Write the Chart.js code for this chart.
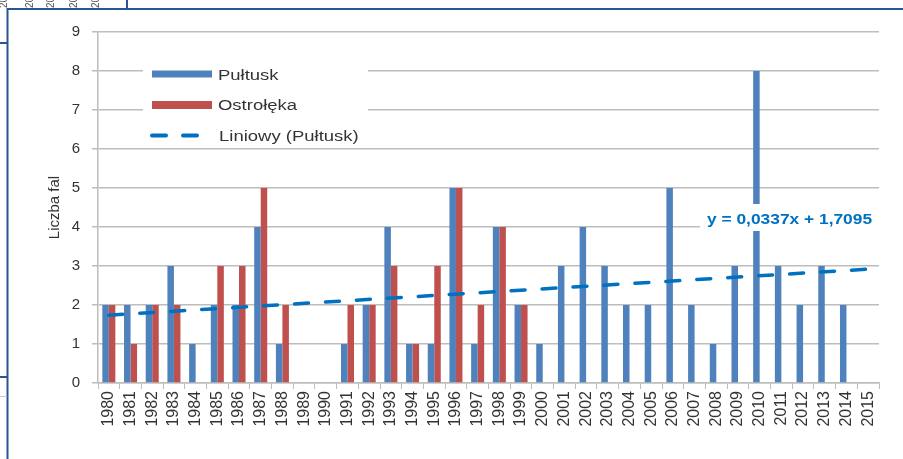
<!DOCTYPE html>
<html>
<head>
<meta charset="utf-8">
<script src="https://cdn.jsdelivr.net/npm/chart.js@4.4.1/dist/chart.umd.min.js"></script>
<style>
  html, body { margin: 0; padding: 0; background: #fff; }
  #chart { display: block; }
</style>
</head>
<body>
<canvas id="chart" width="903" height="459"></canvas>
<script>
const years = ['1980','1981','1982','1983','1984','1985','1986','1987','1988','1989',
               '1990','1991','1992','1993','1994','1995','1996','1997','1998','1999',
               '2000','2001','2002','2003','2004','2005','2006','2007','2008','2009',
               '2010','2011','2012','2013','2014','2015']
const pultusk = [2,2,2,3,1,2,2,4,1,0, 0,1,2,4,1,1,5,1,4,2, 1,3,4,3,2,2,5,2,1,3, 8,3,2,3,2,0]
const ostroleka = [2,1,2,2,0,3,3,5,2,0, 0,2,2,3,1,3,5,2,4,2,
                   null,null,null,null,null,null,null,null,null,null,
                   null,null,null,null,null,null]
// linia trendu - tylko końce
const trendPultusk = [1.74,null,null,null,null,null,null,null,null,null,
                      null,null,null,null,null,null,null,null,null,null,
                      null,null,null,null,null,null,null,null,null,null,
                      null,null,null,null,null,2.92]
const trendEquation = 'y = 0,0337x + 1,7095'
const yMax = 9
const yAxisTitle = 'Liczba fal'

const BLUE = '#4F81BD', RED = '#C0504D', TREND = '#0070C0', GRID = '#bdbdbd', TEXT = '#333'

// legenda wewnątrz wykresu + równanie trendu + ramka
const overlay = {
    id: 'overlay',
    beforeDraw(chart) {
        const ctx = chart.ctx
        ctx.save()
        ctx.fillStyle = '#fff'
        ctx.fillRect(0, 0, chart.width, chart.height)
        ctx.restore()
    },
    afterDatasetsDraw(chart) {
        const ctx = chart.ctx
        const ds = chart.data.datasets
        ctx.save()
        // tło legendy
        ctx.fillStyle = '#fff'
        ctx.fillRect(143, 57, 225, 90)
        ctx.fillStyle = ds[0].backgroundColor
        ctx.fillRect(152, 70.5, 60, 7)
        ctx.fillStyle = ds[1].backgroundColor
        ctx.fillRect(152, 101, 60, 8)
        ctx.strokeStyle = TREND
        ctx.lineWidth = 4
        ctx.lineCap = 'round'
        ctx.beginPath()
        ctx.moveTo(152, 135.5); ctx.lineTo(166, 135.5)
        ctx.moveTo(183, 135.5); ctx.lineTo(197, 135.5)
        ctx.stroke()
        ctx.fillStyle = TEXT
        ctx.font = '14px "Liberation Sans", Arial, sans-serif'
        ctx.textBaseline = 'alphabetic'
        const sx = 1.32
        const legendText = (t, x, y) => {
            ctx.save(); ctx.translate(x, y); ctx.scale(sx, 1); ctx.fillText(t, 0, 0); ctx.restore()
        }
        legendText(ds[0].label, 218, 79.5)
        legendText(ds[1].label, 218, 110)
        legendText(ds[2].label, 219, 141)
        // równanie
        ctx.fillStyle = '#fff'
        ctx.fillRect(700, 204, 203, 27)
        ctx.fillStyle = TREND
        ctx.font = 'bold 14px "Liberation Sans", Arial, sans-serif'
        ctx.save(); ctx.translate(707, 224); ctx.scale(1.24, 1); ctx.fillText(trendEquation, 0, 0); ctx.restore()
        ctx.restore()
    },
    afterDraw(chart) {
        const ctx = chart.ctx
        ctx.save()
        ctx.strokeStyle = '#2a5592'
        ctx.lineWidth = 2
        ctx.beginPath()
        ctx.moveTo(7.5, 459); ctx.lineTo(7.5, 9); ctx.lineTo(903, 9)
        ctx.moveTo(0, 43); ctx.lineTo(7, 43)
        ctx.moveTo(0, 377); ctx.lineTo(7, 377)
        ctx.moveTo(127, 0); ctx.lineTo(127, 9)
        ctx.stroke()
        ctx.strokeStyle = '#c8c8c8'
        ctx.lineWidth = 1
        ctx.beginPath()
        ctx.moveTo(0, 396.5); ctx.lineTo(7, 396.5)
        ctx.stroke()
        // ucięte etykiety sąsiedniego wykresu
        ctx.fillStyle = '#555'
        ctx.font = '10px "Liberation Sans", Arial, sans-serif'
        ctx.textBaseline = 'middle'
        ;[4, 30, 51, 74, 96].forEach(x => {
            ctx.save(); ctx.translate(x, 8); ctx.rotate(-Math.PI / 2); ctx.fillText('2009', 0, 0); ctx.restore()
        })
        ctx.restore()
    }
}

new Chart(document.getElementById('chart'), {
    type: 'bar',
    data: {
        labels: years,
        datasets: [
            {
                label: 'Pułtusk',
                data: pultusk,
                backgroundColor: BLUE,
                categoryPercentage: 0.6,
                barPercentage: 1,
                order: 2
            },
            {
                label: 'Ostrołęka',
                data: ostroleka,
                backgroundColor: RED,
                categoryPercentage: 0.6,
                barPercentage: 1,
                order: 2
            },
            {
                type: 'line',
                label: 'Liniowy (Pułtusk)',
                data: trendPultusk,
                borderColor: TREND,
                borderWidth: 3.5,
                borderDash: [14, 17],
                borderCapStyle: 'round',
                pointRadius: 0,
                spanGaps: true,
                fill: false,
                order: 1
            }
        ]
    },
    options: {
        responsive: false,
        animation: false,
        devicePixelRatio: 1,
        layout: { padding: { left: 42, top: 32, right: 24, bottom: 0 } },
        plugins: {
            legend: { display: false },
            tooltip: { enabled: false }
        },
        scales: {
            x: {
                grid: { drawOnChartArea: false, drawTicks: true, tickLength: 6, color: GRID, offset: true },
                border: { color: GRID, width: 1.5 },
                ticks: {
                    autoSkip: false, minRotation: 90, maxRotation: 90, padding: 2,
                    color: TEXT, font: { family: '"Liberation Sans", Arial, sans-serif', size: 16 }
                },
                afterFit: s => { s.height = 76 }
            },
            y: {
                min: 0, max: yMax,
                grid: { color: GRID, lineWidth: 1.5, tickLength: 6 },
                border: { color: GRID, width: 1.5 },
                ticks: {
                    stepSize: 1, padding: 12, color: TEXT,
                    font: { family: '"Liberation Sans", Arial, sans-serif', size: 15 }
                },
                title: {
                    display: true, text: yAxisTitle, color: TEXT,
                    font: { family: '"Liberation Sans", Arial, sans-serif', size: 15 }
                },
                afterFit: s => { s.width = 56 }
            }
        }
    },
    plugins: [overlay]
})
</script>
</body>
</html>
